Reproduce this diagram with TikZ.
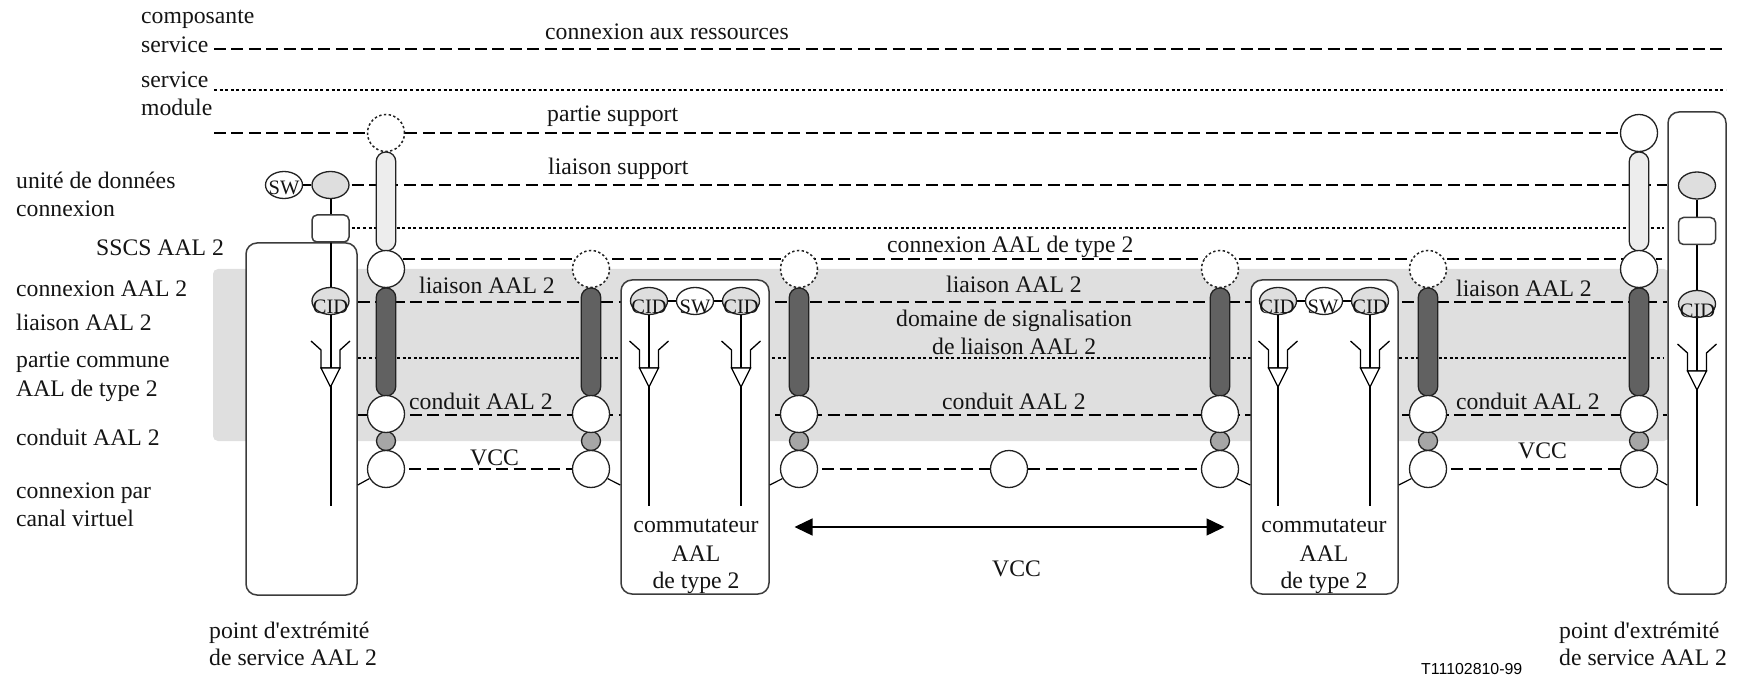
\documentclass[tikz,border=0pt]{standalone}
\usepackage{fontspec}
\setmainfont{Liberation Serif}
\newfontfamily\codefont{Liberation Sans}
\usetikzlibrary{shapes.geometric,arrows.meta}
\pgfdeclarelayer{band}\pgfdeclarelayer{rows}\pgfdeclarelayer{boxes}\pgfdeclarelayer{lines}
\pgfsetlayers{band,rows,boxes,lines,main}
\definecolor{bandgrey}{HTML}{DFDFDF}
\definecolor{stroke}{HTML}{222222}
\definecolor{boxstroke}{HTML}{3C3C3C}
\tikzset{
  lbl/.style={inner sep=0pt,anchor=base west,font=\fontsize{23.7}{28}\selectfont,text=black!92},
  clbl/.style={lbl,anchor=base},
  sm/.style={inner sep=0pt,anchor=base,font=\fontsize{20.5}{22}\selectfont,text=black!92},
  dashrow/.style={line width=1.8pt,black,dash pattern=on 12pt off 5.4pt},
  dotrow/.style={line width=2pt,black,dash pattern=on 3pt off 2.6pt},
  circ/.style={circle,draw=stroke,fill=white,line width=1.3pt,minimum size=37pt,inner sep=0pt},
  dcirc/.style={circ,dash pattern=on 2.4pt off 2.4pt,line width=1.5pt},
  small/.style={circle,draw=stroke,fill=black!35,line width=1.3pt,minimum size=19pt,inner sep=0pt},
  lpill/.style={rectangle,rounded corners=9.5pt,draw=stroke,fill=black!7,line width=1.3pt,minimum width=19.5pt,minimum height=99pt,inner sep=0pt},
  dpill/.style={rectangle,rounded corners=9.5pt,draw=stroke,fill=black!62,line width=1.3pt,minimum width=19.5pt,minimum height=108pt,inner sep=0pt},
  ell/.style={ellipse,draw=stroke,line width=1.3pt,minimum width=37pt,minimum height=27pt,inner sep=0pt},
  gell/.style={ell,fill=black!13},
  well/.style={ell,fill=white},
  bigbox/.style={rectangle,rounded corners=11pt,draw=boxstroke,fill=white,line width=1.5pt,inner sep=0pt},
  minibox/.style={rectangle,rounded corners=5pt,draw=boxstroke,fill=white,line width=1.5pt,minimum width=37pt,minimum height=27pt,inner sep=0pt},
  vline/.style={line width=2pt,black},
  thin/.style={line width=1.2pt,stroke},
}
\newcommand{\myfunnel}[2]{%
  \draw[line width=1.3pt,stroke] ({#1-19.5},{#2}) -- ({#1-9.5},{#2+9}) -- ({#1-9.5},{#2+27}) -- ({#1+9.5},{#2+27}) -- ({#1+9.5},{#2+9}) -- ({#1+19.5},{#2});
  \draw[line width=1.2pt,stroke,fill=white] ({#1-9.5},{#2+27}) -- ({#1+9.5},{#2+27}) -- ({#1},{#2+46}) -- cycle;
}
\begin{document}
\begin{tikzpicture}[x=1pt,y=-1pt]
\useasboundingbox (0,0) rectangle (1742,676);
% band
\begin{pgfonlayer}{band}
  \fill[bandgrey,rounded corners=5pt] (213,269) rectangle (1669,441);
\end{pgfonlayer}
% boxes
\begin{pgfonlayer}{boxes}
  \node[bigbox,minimum width=111pt,minimum height=352pt] (lbox) at (301.5,419) {};
  \node[bigbox,minimum width=148pt,minimum height=314pt] (sbox) at (695,437) {};
  \node[bigbox,minimum width=147pt,minimum height=314pt] (tbox) at (1324.5,437) {};
  \node[bigbox,minimum width=58pt,minimum height=482pt] (rbox) at (1697,353) {};
\end{pgfonlayer}
% columns
\node[dcirc] (c1t) at (386,133) {};
\node[circ] (c6t) at (1639,133) {};
\node[lpill] (p1) at (386,201.5) {};
\node[lpill] (p6) at (1639,201.5) {};
\node[circ] (c1m) at (386,269) {};
\node[dcirc] (c2m) at (591,269) {};
\node[dcirc] (c3m) at (799,269) {};
\node[dcirc] (c4m) at (1220,269) {};
\node[dcirc] (c5m) at (1428,269) {};
\node[circ] (c6m) at (1639,269) {};
\foreach \n/\x in {1/386,2/591,3/799,4/1220,5/1428,6/1639}{
  \node[dpill] (d\n) at (\x,342) {};
  \node[small] (s\n) at (\x,441) {};
  \node[circ] (c\n c) at (\x,414) {};
  \node[circ] (c\n v) at (\x,469) {};
}
\node[circ] (cmid) at (1009,469) {};
% ellipses and small boxes
\node[well] (swL) at (284,185) {};
\node[gell] (gL) at (330.5,185) {};
\node[minibox] (rL) at (330.5,228.5) {};
\node[gell] (cidL) at (330.5,301) {};
\node[gell] (cidA) at (649,301) {};
\node[well] (swA) at (695,301) {};
\node[gell] (cidB) at (741,301) {};
\node[gell] (cidC) at (1278,301) {};
\node[well] (swB) at (1324,301) {};
\node[gell] (cidD) at (1370,301) {};
\node[gell] (gR) at (1697,185.5) {};
\node[minibox] (rR) at (1697,231) {};
\node[gell] (cidR) at (1697,304) {};
% free ends
\coordinate (a1) at (214,49);   \coordinate (a2) at (1726,49);
\coordinate (b1) at (214,90);   \coordinate (b2) at (1726,90);
\coordinate (e1) at (214,133);
\coordinate (endL) at (330.5,506);
\coordinate (endA) at (649,506);
\coordinate (endB) at (741,506);
\coordinate (endC) at (1278,506);
\coordinate (endD) at (1370,506);
\coordinate (endR) at (1697,506);
\coordinate (arrL) at (794.5,527);
\coordinate (arrR) at (1224.5,527);
% rows
\begin{pgfonlayer}{rows}
  \draw[dashrow] (a1) -- (a2);
  \draw[dotrow] (b1) -- (b2);
  \draw[dashrow] (e1) -- (c6t.west);
  \draw[dashrow,shorten <=2pt] (gL.east) -- (rbox.west |- 0,185);
  \draw[dotrow,shorten <=2pt,shorten >=3pt] (rL.east) -- (rbox.west |- rL.east);
  \draw[dashrow,shorten >=5pt] (c1m.center |- 0,259) -- (rbox.west |- 0,259);
  \draw[dashrow] (lbox.east |- 0,302) -- (rbox.west |- 0,302);
  \draw[dotrow,shorten >=3pt] (lbox.east |- 0,358) -- (rbox.west |- 0,358);
  \draw[dashrow] (lbox.east |- 0,415) -- (rbox.west |- 0,415);
  \draw[dashrow,shorten <=4pt] (c1v.east) -- (c2v.west);
  \draw[dashrow,shorten <=4pt] (c3v.east) -- (cmid.west);
  \draw[dashrow] (cmid.east) -- (c4v.west);
  \draw[dashrow,shorten <=4pt] (c5v.east) -- (c6v.west);
\end{pgfonlayer}
% vertical lines
\begin{pgfonlayer}{lines}
  \draw[vline] (gL) -- (endL);
  \draw[vline] (cidA) -- (endA);
  \draw[vline] (cidB) -- (endB);
  \draw[vline] (cidC) -- (endC);
  \draw[vline] (cidD) -- (endD);
  \draw[vline] (gR) -- (endR);
  \draw[line width=1.7pt] (swL) -- (gL);
  \draw[line width=1.7pt] (cidA) -- (swA);
  \draw[line width=1.7pt] (swA) -- (cidB);
  \draw[line width=1.7pt] (cidC) -- (swB);
  \draw[line width=1.7pt] (swB) -- (cidD);
  \draw[thin] (lbox.east |- 0,485) -- (c1v.210);
  \draw[thin] (c2v.330) -- (sbox.west |- 0,485);
  \draw[thin] (sbox.east |- 0,485) -- (c3v.210);
  \draw[thin] (c4v.330) -- (tbox.west |- 0,485);
  \draw[thin] (tbox.east |- 0,485) -- (c5v.210);
  \draw[thin] (c6v.330) -- (rbox.west |- 0,485);
\end{pgfonlayer}
\myfunnel{330.5}{341}
\myfunnel{649}{341}
\myfunnel{741}{341}
\myfunnel{1278}{341}
\myfunnel{1370}{341}
\myfunnel{1697}{344}
% arrow
\draw[line width=1.4pt,{Triangle[length=18pt,width=17pt]}-{Triangle[length=18pt,width=17pt]}] (arrL) -- (arrR);
% small labels
\node[sm] (tSWL) at (284,195) {SW};
\node[sm] (tCIDL) at (330.5,313) {CID};
\node[sm] (tCIDA) at (649,313) {CID};
\node[sm] (tSWA) at (695,313) {SW};
\node[sm] (tCIDB) at (741,313) {CID};
\node[sm] (tCIDC) at (1277,313) {CID};
\node[sm] (tSWB) at (1323,313) {SW};
\node[sm] (tCIDD) at (1370,313) {CID};
\node[sm] (tCIDR) at (1697.5,317) {CID};
% left labels
\node[lbl] (l1) at (141,24) {composante};
\node[lbl] (l2) at (141,53) {service};
\node[lbl] (l3) at (141,88) {service};
\node[lbl] (l4) at (141,116) {module};
\node[lbl] (l5) at (16,189) {unité de données};
\node[lbl] (l6) at (16,217) {connexion};
\node[lbl] (l7) at (96,256) {SSCS AAL 2};
\node[lbl] (l8) at (16,296) {connexion AAL 2};
\node[lbl] (l9) at (16,330) {liaison AAL 2};
\node[lbl] (l10) at (16,367) {partie commune};
\node[lbl] (l11) at (16,396) {AAL de type 2};
\node[lbl] (l12) at (16,445) {conduit AAL 2};
\node[lbl] (l13) at (16,498) {connexion par};
\node[lbl] (l14) at (16,526) {canal virtuel};
% centre labels
\node[lbl] (m1) at (545,40) {connexion aux ressources};
\node[lbl] (m2) at (547,122) {partie support};
\node[lbl] (m3) at (548,175) {liaison support};
\node[lbl] (m4) at (887,253) {connexion AAL de type 2};
\node[lbl] (m5) at (946,293) {liaison AAL 2};
\node[lbl] (m6) at (896,326) {domaine de signalisation};
\node[lbl] (m7) at (932,354) {de liaison AAL 2};
\node[lbl] (m8) at (942,409) {conduit AAL 2};
\node[lbl] (m9) at (992,576) {VCC};
\node[lbl] (m10) at (419,294) {liaison AAL 2};
\node[lbl] (m11) at (409,409) {conduit AAL 2};
\node[lbl] (m12) at (470,465) {VCC};
\node[lbl] (m13) at (1456,296) {liaison AAL 2};
\node[lbl] (m14) at (1456,409) {conduit AAL 2};
\node[lbl] (m15) at (1518,458) {VCC};
% switch labels
\node[clbl] (s1a) at (696,532) {commutateur};
\node[clbl] (s1b) at (696,561) {AAL};
\node[clbl] (s1c) at (696,588) {de type 2};
\node[clbl] (s2a) at (1324,532) {commutateur};
\node[clbl] (s2b) at (1324,561) {AAL};
\node[clbl] (s2c) at (1324,588) {de type 2};
% endpoints
\node[lbl] (q1) at (209,638) {point d\textquotesingle extrémité};
\node[lbl] (q2) at (209,665) {de service AAL 2};
\node[lbl] (q3) at (1559,638) {point d\textquotesingle extrémité};
\node[lbl] (q4) at (1559,665) {de service AAL 2};
\node[inner sep=0pt,anchor=base west,font=\codefont\fontsize{15.9}{18}\selectfont] (code) at (1421,674) {T11102810-99};
\end{tikzpicture}
\end{document}
